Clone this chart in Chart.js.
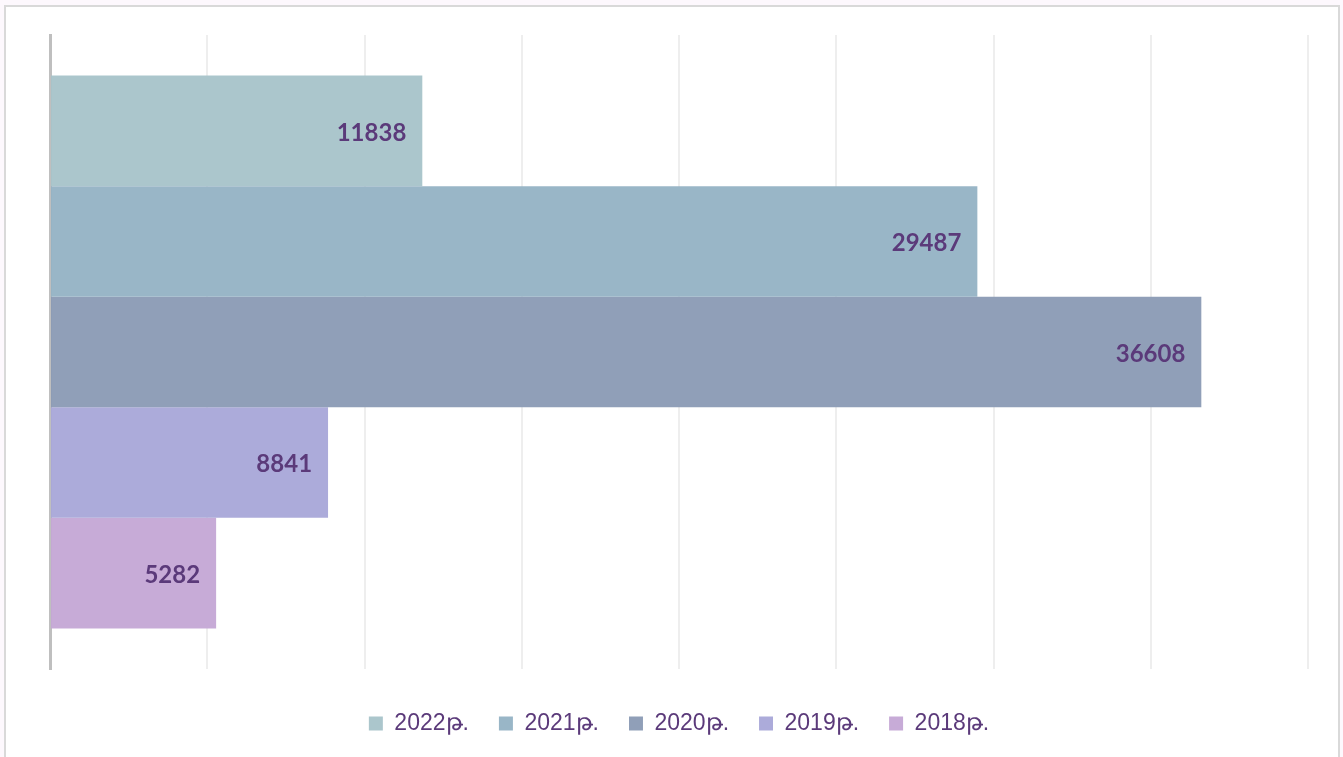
<!DOCTYPE html>
<html>
<head>
<meta charset="utf-8">
<script src="https://cdn.jsdelivr.net/npm/chart.js@4"></script>
<style>
  html, body { margin: 0; padding: 0; background: #fdf8fd; }
  .frame {
    position: absolute; left: 4px; top: 5px; width: 1332px; height: 800px;
    background: #fff; border: 2px solid #d9d9d9;
  }
  .wrap { position: absolute; left: 0; top: 0; width: 1343px; height: 757px; overflow: hidden; }
</style>
</head>
<body>
<div class="frame"></div>
<div class="wrap"><canvas id="chart"></canvas></div>
<script>
// Data
const categories = [''];
const seriesNames = ['2022թ.', '2021թ.', '2020թ.', '2019թ.', '2018թ.'];
const seriesValues = [11838, 29487, 36608, 8841, 5282];
const seriesColors = [
  'rgba(166,195,201,0.95)',
  'rgba(148,178,196,0.95)',
  'rgba(138,154,180,0.95)',
  'rgba(168,166,216,0.95)',
  'rgba(196,167,213,0.95)',
];
const xMax = 40000;
const xStep = 5000;

const LABEL_COLOR = '#5b3a7a';

// ─── Value labels inside the bar ends ────────────────────────────────────────
const valueLabels = {
  id: 'valueLabels',
  afterDatasetsDraw(chart) {
    const { ctx } = chart;
    ctx.save();
    ctx.font = 'bold 24px Lato, "Open Sans", sans-serif';
    ctx.fillStyle = LABEL_COLOR;
    ctx.textAlign = 'right';
    ctx.textBaseline = 'middle';
    chart.data.datasets.forEach((ds, i) => {
      const meta = chart.getDatasetMeta(i);
      meta.data.forEach((bar, j) => {
        ctx.fillText(String(ds.data[j]), bar.x - 16, bar.y + 2);
      });
    });
    ctx.restore();
  },
};

const datasets = seriesNames.map((name, i) => ({
  label: name,
  data: [seriesValues[i]],
  backgroundColor: seriesColors[i],
  borderWidth: 0,
  categoryPercentage: 0.872,
  barPercentage: 1,
}));

new Chart(document.getElementById('chart'), {
  type: 'bar',
  data: { labels: categories, datasets },
  options: {
    indexAxis: 'y',
    responsive: true,
    maintainAspectRatio: false,
    animation: false,
    layout: { padding: { top: 35, left: 50, right: 35, bottom: 12 } },
    plugins: {
      legend: {
        position: 'bottom',
        labels: {
          boxWidth: 14,
          boxHeight: 14,
          padding: 30,
          color: LABEL_COLOR,
          font: { family: '"Liberation Sans", Arial, sans-serif', size: 23 },
        },
      },
      tooltip: { enabled: false },
    },
    scales: {
      x: {
        min: 0,
        max: xMax,
        ticks: { display: false, stepSize: xStep },
        // invisible tick marks only reserve space below the plot
        grid: { color: '#eeeeee', lineWidth: 2, drawTicks: true, tickLength: 13, tickColor: 'rgba(0,0,0,0)' },
        border: { display: false },
      },
      y: {
        ticks: { display: false },
        grid: { display: false, drawTicks: false },
        border: { display: true, color: '#bfbfbf', width: 3 },
      },
    },
  },
  plugins: [valueLabels],
});
</script>
</body>
</html>
